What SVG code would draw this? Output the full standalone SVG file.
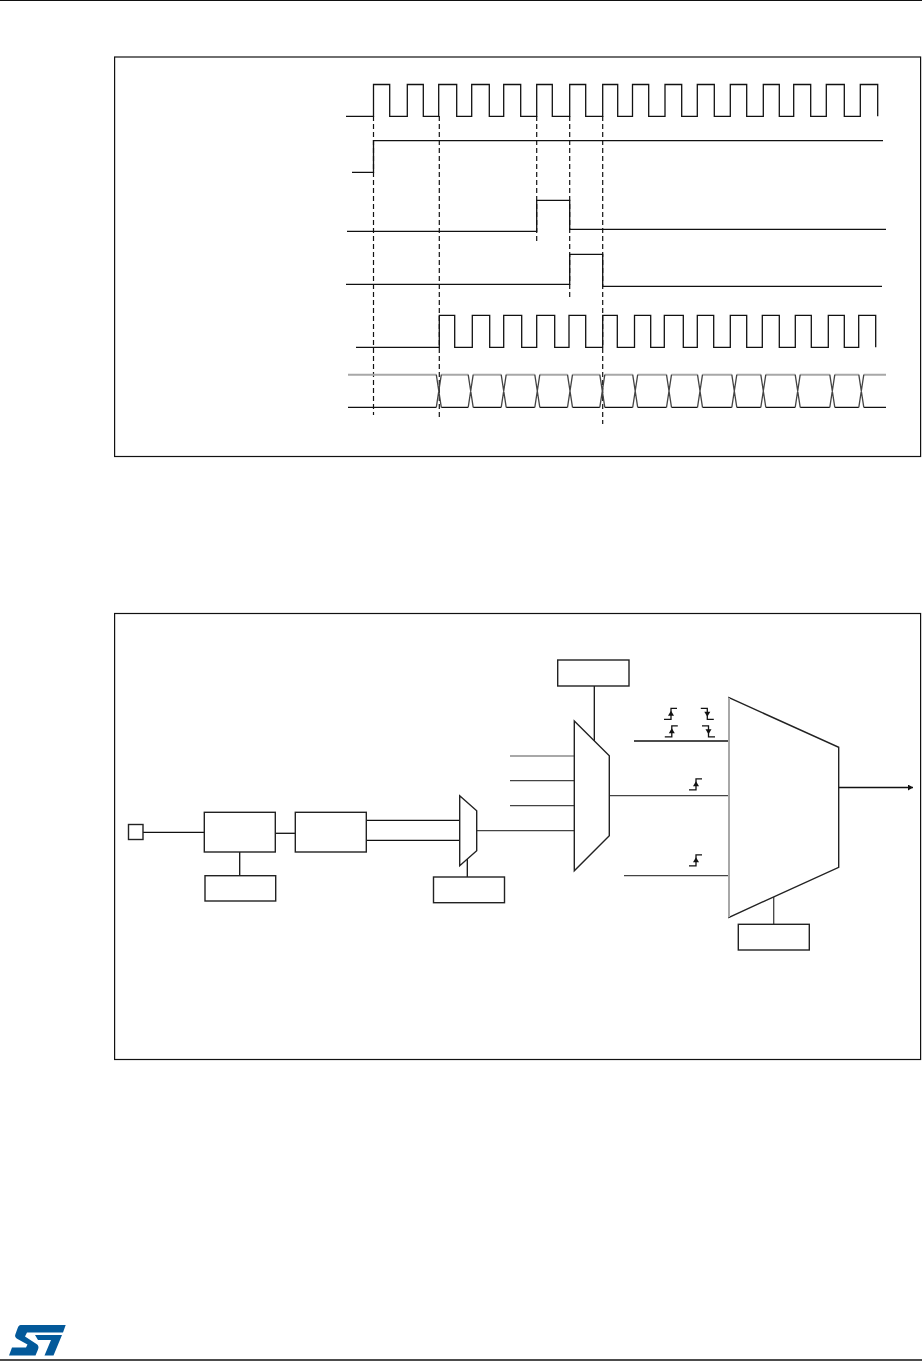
<svg xmlns="http://www.w3.org/2000/svg" width="922" height="1361" viewBox="0 0 922 1361">
<style>
.l{fill:none;stroke:#111;stroke-width:1.3}
.g{fill:none;stroke:#a8a8a8;stroke-width:2}
.m{fill:none;stroke:#444;stroke-width:1.3}
.d{fill:none;stroke:#111;stroke-width:1.2;stroke-dasharray:5 3}
.b{fill:#fff;stroke:#222;stroke-width:1.4}
.t{fill:#111;stroke:none}
</style>
<defs>
<g id="rise"><path class="l" d="M-7 11H0V0H6"/><path class="t" d="M0 2.500L3 7.500H-3Z"/></g>
<g id="fall"><path class="l" d="M-6.500 0H0V11H6.500"/><path class="t" d="M0 8.500L3 3.500H-3Z"/></g>
<marker id="arr" markerWidth="6" markerHeight="7" refX="5" refY="3" orient="auto" markerUnits="userSpaceOnUse"><path d="M0 0L5 3L0 6Z" fill="#111"/></marker>
</defs>
<rect width="922" height="1361" fill="#fff"/>
<g id="page">
<path d="M0 .5H922" stroke="#111" stroke-width="1"/>
<path d="M0 1360H922" stroke="#111" stroke-width="1.4"/>
<g id="logo" fill="#03599a">
<path d="M20.700 1325H65.700L63 1332.500H27L25 1336.500L36.500 1344Q39.500 1346 38 1349.500L35.500 1355.500H9L12 1347.500H26L27.500 1344.500L17.500 1339Q14 1337 15.500 1334L17.500 1328.500Q18.500 1325 20.700 1325Z"/>
<path d="M35 1335H62L53.500 1355.500H44.500L51 1340H38Z"/>
</g>
</g>
<rect id="frame1" x="114.600" y="57" width="806" height="399.500" fill="none" stroke="#111" stroke-width="1.2"/>
<rect id="frame2" x="114.600" y="613.500" width="806" height="446" fill="none" stroke="#111" stroke-width="1.2"/>
<g id="timing">
<path class="d" d="M373.500 116V415"/>
<path class="d" d="M439.300 116V420"/>
<path class="d" d="M536.700 116V242"/>
<path class="d" d="M569.700 116V300"/>
<path class="d" d="M602.700 116V424"/>
<path id="sig1" class="l" d="M346 116.300H373.500V84.500H389.700V116.300H407.300V84.500H423.300V116.300H438.700V84.500H456.700V116.300H471.700V84.500H489.300V116.300H503.700V84.500H520.700V116.300H536.700V84.500H552.300V116.300H569.700V84.500H585.700V116.300H602.700V84.500H617.700V116.300H632.500V84.500H648.700V116.300H665V84.500H681.700V116.300H697.300V84.500H714.300V116.300H730.300V84.500H746.700V116.300H763.300V84.500H779.300V116.300H793.700V84.500H810.700V116.300H826.300V84.500H844.300V116.300H860.300V84.500H877.700V116.300"/>
<path id="sig2" class="l" d="M352 172.300H373.500V140.700H883"/>
<path id="sig3" class="l" d="M347 231.300H536.700V200.300H569.700V229.300H886"/>
<path id="sig4" class="l" d="M346 284.300H569.700V254.300H602.700V286.300H882"/>
<path id="sig5" class="l" d="M356 347.300H439.300V315.300H454.700V347.300H472.300V315.300H489.700V347.300H503.700V315.300H521.700V347.300H536.700V315.300H554.700V347.300H569V315.300H585.700V347.300H602.700V315.300H617.300V347.300H634.500V315.300H650.700V347.300H664.300V315.300H683.300V347.300H697.300V315.300H713.700V347.300H730.300V315.300H746.700V347.300H762.300V315.300H779.300V347.300H795.300V315.300H811.300V347.300H828.300V315.300H844.300V347.300H858.700V315.300H875.700V347.300"/>
<g id="bus">
<path class="g" d="M348 374.700H436.300M441.300 374.700H468.200M473.200 374.700H501.200M506.200 374.700H534.800M539.800 374.700H567.500M572.500 374.700H599.800M604.800 374.700H632.700M637.700 374.700H666.500M671.500 374.700H697.500M702.500 374.700H731.800M736.800 374.700H760.800M765.800 374.700H795.200M800.200 374.700H829.800M834.800 374.700H858.800M863.800 374.700H886"/>
<path class="l" d="M348 407.300H436.300M441.300 407.300H468.200M473.200 407.300H501.200M506.200 407.300H534.800M539.800 407.300H567.500M572.500 407.300H599.800M604.800 407.300H632.700M637.700 407.300H666.500M671.500 407.300H697.500M702.500 407.300H731.800M736.800 407.300H760.800M765.800 407.300H795.200M800.200 407.300H829.800M834.800 407.300H858.800M863.800 407.300H886"/>
<path class="m" d="M436.300 374.700L441.300 407.300M441.300 374.700L436.300 407.300M468.200 374.700L473.200 407.300M473.200 374.700L468.200 407.300M501.200 374.700L506.200 407.300M506.200 374.700L501.200 407.300M534.800 374.700L539.800 407.300M539.800 374.700L534.800 407.300M567.500 374.700L572.500 407.300M572.500 374.700L567.500 407.300M599.800 374.700L604.800 407.300M604.800 374.700L599.800 407.300M632.700 374.700L637.700 407.300M637.700 374.700L632.700 407.300M666.500 374.700L671.500 407.300M671.500 374.700L666.500 407.300M697.500 374.700L702.500 407.300M702.500 374.700L697.500 407.300M731.800 374.700L736.800 407.300M736.800 374.700L731.800 407.300M760.800 374.700L765.800 407.300M765.800 374.700L760.800 407.300M795.200 374.700L800.200 407.300M800.200 374.700L795.200 407.300M829.800 374.700L834.800 407.300M834.800 374.700L829.800 407.300M858.800 374.700L863.800 407.300M863.800 374.700L858.800 407.300"/>
</g>
</g>
<g id="connectors">
<path class="l" d="M143 832.300H204.300"/>
<path class="l" d="M239.700 852V875.700"/>
<path class="l" d="M275.300 833.300H295.300"/>
<path class="l" d="M366.300 820.300H459.700"/>
<path class="l" d="M366.300 840.300H459.700"/>
<path class="l" d="M467.300 858V877"/>
<path class="m" d="M476.700 830.700H574.300"/>
<path class="l" d="M594.300 686V741"/>
<path class="g" d="M510 756H574.300"/>
<path class="m" d="M510 780.700H574.300"/>
<path class="m" d="M510 805.700H574.300"/>
<path class="m" d="M609.300 795.700H729"/>
<path class="l" d="M634 741H729"/>
<path class="m" d="M624 875.700H729"/>
<path class="l" d="M838.700 787.500H913" marker-end="url(#arr)"/>
<path class="m" d="M773.700 897V924.300"/>
<use href="#rise" x="671" y="708.300"/>
<use href="#rise" x="671.800" y="725.800"/>
<use href="#fall" x="707.300" y="708.300"/>
<use href="#fall" x="708.500" y="725.800"/>
<use href="#rise" x="696" y="778.800"/>
<use href="#rise" x="696" y="854.800"/>
</g>
<g id="pin"><rect class="b" x="128.500" y="824.500" width="14.500" height="15"/></g>
<g id="boxA"><rect class="b" x="204.300" y="812.300" width="71" height="39.700"/></g>
<g id="boxA2"><rect class="b" x="205" y="875.700" width="70.700" height="25.300"/></g>
<g id="boxB"><rect class="b" x="295.300" y="812.300" width="71" height="39.700"/></g>
<g id="mux1"><path class="b" d="M459.700 795.700L476.700 810.700V850.700L459.700 865.700Z"/></g>
<g id="mux1sel"><rect class="b" x="433.500" y="877" width="71" height="25.700"/></g>
<g id="mux2"><path class="b" d="M574.300 721L609.300 755.700V835.700L574.300 870.700Z"/></g>
<g id="mux2sel"><rect class="b" x="557.700" y="660" width="71.300" height="26"/></g>
<g id="mux3"><path class="b" d="M729 697.700L838.700 747.300V867.300L729 917.300Z"/><path class="g" d="M729 698V917"/></g>
<g id="mux3sel"><rect class="b" x="738.300" y="924.300" width="71" height="25.700"/></g>
</svg>
